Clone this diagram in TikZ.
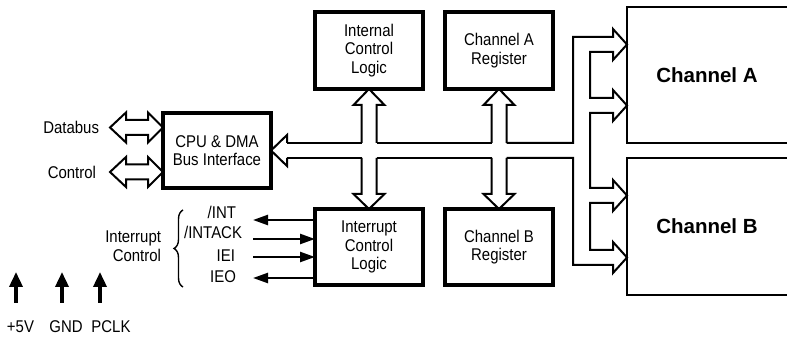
\documentclass[tikz,border=0pt]{standalone}
\usepackage{fontspec}
\setmainfont{Liberation Sans}[FakeStretch=0.88]
\newfontfamily\chfont{Liberation Sans}
\usetikzlibrary{arrows.meta,calc,decorations.pathreplacing}
\newcommand\fatdbl[2]{\draw[bus] (#1) -- ++(16,-15) -- ++(0,7.5) -- ($(#2)+(-15,-7.5)$) -- ++(0,-7.5) -- (#2) -- ++(-15,15) -- ++(0,-7.5) -- ($(#1)+(16,7.5)$) -- ++(0,7.5) -- cycle;}
\begin{document}
\begin{tikzpicture}[x=1pt,y=-1pt,
  font=\fontsize{17}{18.5}\selectfont,
  box/.style={draw, line width=3.2pt, minimum width=108pt, minimum height=77pt, align=center, inner sep=0pt, outer sep=0pt},
  chbox/.style={inner sep=0pt, outer sep=0pt, minimum width=160pt, font=\chfont\bfseries\fontsize{20.5}{24}\selectfont},
  chline/.style={line width=2.8pt, line join=miter},
  bus/.style={line width=2pt, line join=miter},
  sig/.style={line width=2.4pt, -{Triangle[length=15pt,width=10pt]}},
  pwr/.style={line width=3.5pt, -{Triangle[length=15pt,width=13pt]}},
  lbl/.style={inner sep=0pt, outer sep=0pt}]
\useasboundingbox (0,0) rectangle (787,344);

% boxes
\node[box] (icl) at (369,50.5) {Internal\\Control\\Logic};
\node[box] (chareg) at (499,50.5) {Channel A\\Register};
\node[box, minimum height=75pt] (cpu) at (217,150.5) {CPU \& DMA\\Bus Interface};
\node[box, minimum height=76pt] (irq) at (369,247) {Interrupt\\Control\\Logic};
\node[box, minimum height=76pt] (chbreg) at (499,247) {Channel B\\Register};

% channel boxes (open at the right edge)
\node[chbox, minimum height=136pt] (chA) at (707,75) {Channel A};
\node[chbox, minimum height=137pt] (chB) at (707,226.5) {Channel B};
\draw[chline] (chA.north east) -- (chA.north west) -- (chA.south west) -- (chA.south east);
\draw[chline] (chB.north east) -- (chB.north west) -- (chB.south west) -- (chB.south east);

% CPU bus head
\draw[bus] ($(cpu.east)+(16,-7.5)$) -- ++(0,-8) -- (cpu.east) -- ++(16,15.5) -- ++(0,-8);
% horizontal bus segments
\draw[bus] (287,143) -- (361.5,143);
\draw[bus] (376.5,143) -- (491.5,143);
\draw[bus] (287,158) -- (361.5,158);
\draw[bus] (376.5,158) -- (491.5,158);
% bus to channels
\coordinate (tA1) at ($(chA.west)+(0,-30.5)$);
\coordinate (tA2) at ($(chA.west)+(0,30.5)$);
\coordinate (tB1) at ($(chB.west)+(0,-31)$);
\coordinate (tB2) at ($(chB.west)+(0,31)$);
\draw[bus] (506.5,143) -- (573,143) |- ($(tA1)+(-14,-7.5)$) -- ++(0,-8) -- (tA1) -- ++(-14,15.5) -- ++(0,-8)
  -| ($(tA2)+(-37,-7.5)$) -- ++(23,0) -- ++(0,-8) -- (tA2) -- ++(-14,15.5) -- ++(0,-8)
  -| ($(tB1)+(-37,-7.5)$) -- ++(23,0) -- ++(0,-8) -- (tB1) -- ++(-14,15.5) -- ++(0,-8)
  -| ($(tB2)+(-37,-7.5)$) -- ++(23,0) -- ++(0,-8) -- (tB2) -- ++(-14,15.5) -- ++(0,-8)
  -| (573,158) -- (506.5,158);

% vertical buses
\draw[bus] ($(icl.south)+(-7.5,54)$) -- ++(0,-38) -- ++(-8,0) -- (icl.south) -- ++(15.5,16) -- ++(-8,0) -- ++(0,38);
\draw[bus] ($(irq.north)+(-7.5,-51)$) -- ++(0,36) -- ++(-8,0) -- (irq.north) -- ++(15.5,-15) -- ++(-8,0) -- ++(0,-36);
\draw[bus] ($(chareg.south)+(-7.5,54)$) -- ++(0,-38) -- ++(-8,0) -- (chareg.south) -- ++(15.5,16) -- ++(-8,0) -- ++(0,38);
\draw[bus] ($(chbreg.north)+(-7.5,-51)$) -- ++(0,36) -- ++(-8,0) -- (chbreg.north) -- ++(15.5,-15) -- ++(-8,0) -- ++(0,-36);

% Databus / Control
\coordinate (db) at (110,127.5);
\coordinate (ct) at (110,172);
\fatdbl{db}{cpu.west |- db}
\fatdbl{ct}{cpu.west |- ct}
\node[lbl, anchor=east] (dbl) at (99,127.5) {Databus};
\node[lbl, anchor=east] (ctl) at (96,172) {Control};

% interrupt signals
\coordinate (iINT) at (253,220);
\coordinate (iACK) at (253,239);
\coordinate (iIEI) at (253,257);
\coordinate (iIEO) at (253,278);
\draw[sig] (irq.west |- iINT) -- (iINT);
\draw[sig] (iACK) -- (irq.west |- iACK);
\draw[sig] (iIEI) -- (irq.west |- iIEI);
\draw[sig] (irq.west |- iIEO) -- (iIEO);
\node[lbl, anchor=base east] (lINT) at (236,219) {/INT};
\node[lbl, anchor=base east] (lACK) at (242,239) {/INTACK};
\node[lbl, anchor=base east] (lIEI) at (235,262) {IEI};
\node[lbl, anchor=base east] (lIEO) at (236,283) {IEO};
\draw[line width=1.4pt, decorate, decoration={brace, amplitude=9pt}] (183,287) -- (183,210);
\node[lbl, anchor=east, align=right] (ictl) at (161,246) {Interrupt\\Control};

% power pins
\node[lbl] (v5) at (20.5,327) {+5V};
\node[lbl] (gnd) at (66,327) {GND};
\node[lbl] (pclk) at (111,327) {PCLK};
\coordinate (p1) at (16,303);
\coordinate (p2) at (62,303);
\coordinate (p3) at (100,303);
\draw[pwr] (p1) -- ++(0,-31);
\draw[pwr] (p2) -- ++(0,-31);
\draw[pwr] (p3) -- ++(0,-31);
\end{tikzpicture}
\end{document}
